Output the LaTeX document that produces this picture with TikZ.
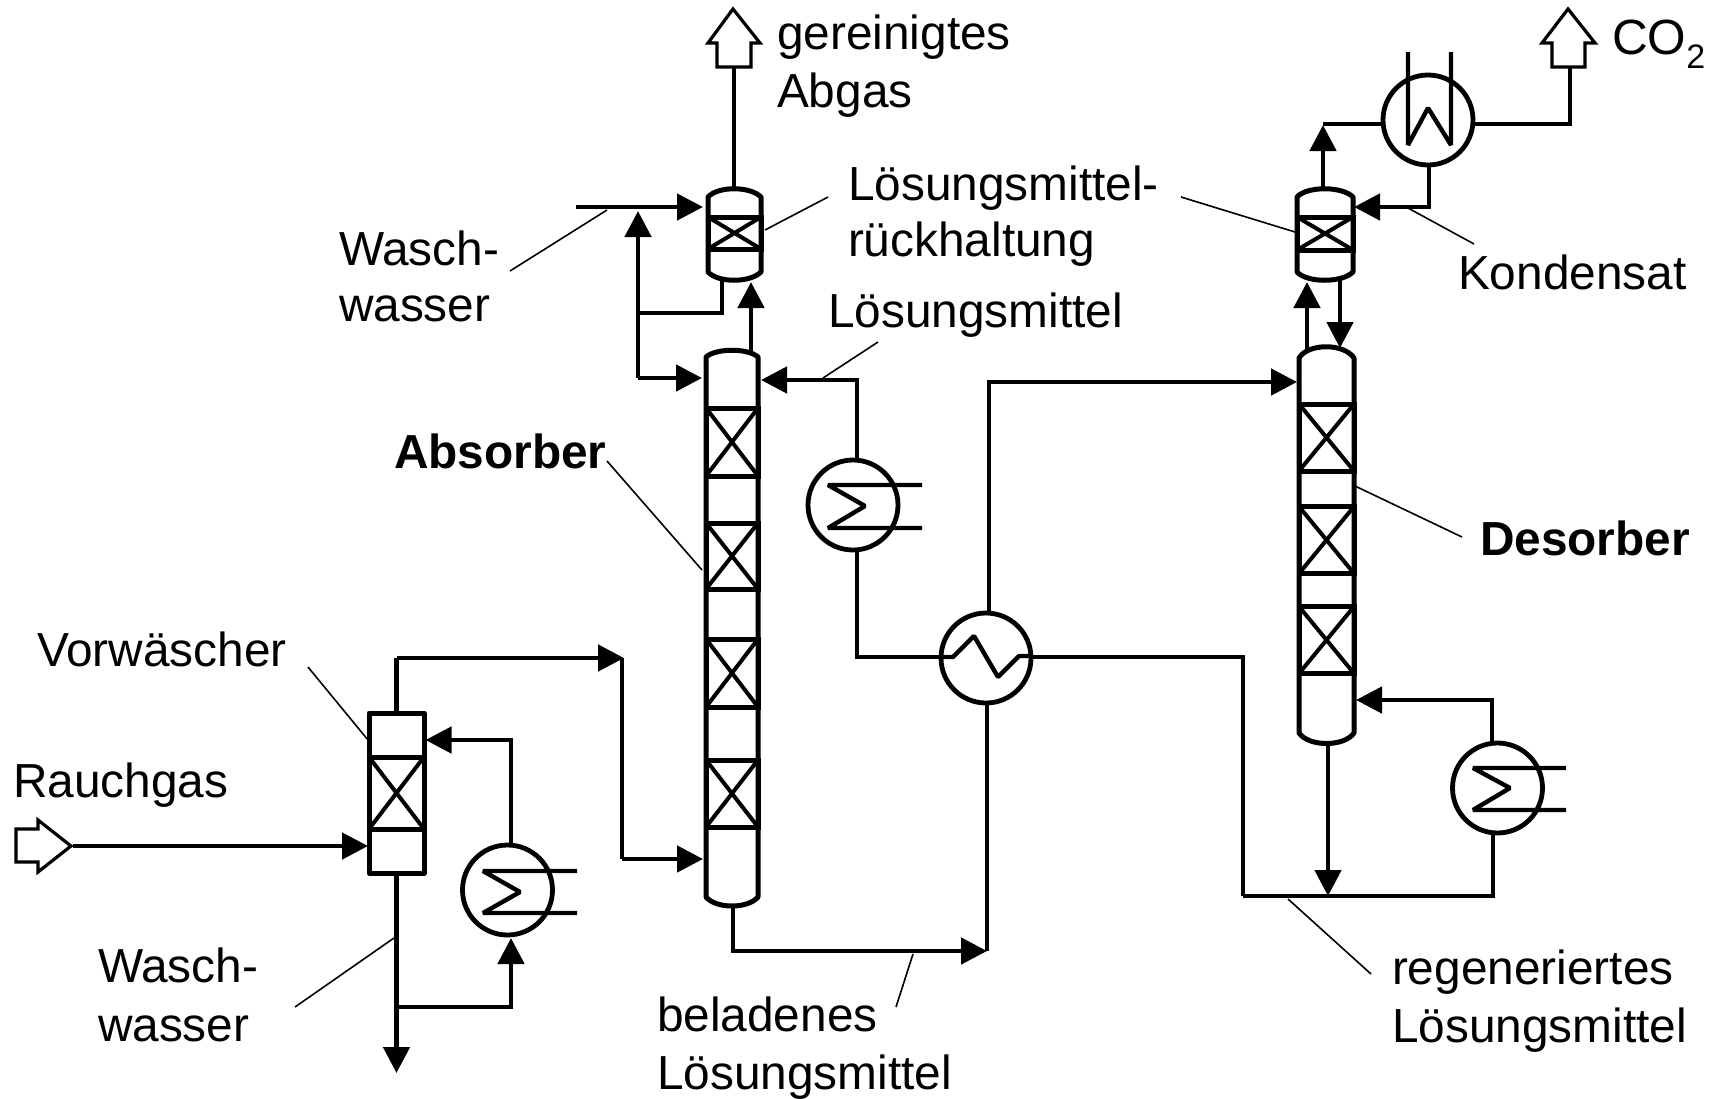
\documentclass[tikz,border=0pt]{standalone}
\usepackage{fontspec}
\setmainfont{Liberation Sans}
\usetikzlibrary{arrows.meta}
\tikzset{
  pipe/.style={line width=4.8pt,line join=miter,line cap=butt},
  flow/.style={pipe,-{Triangle[length=26pt,width=26pt]}},
  vessel/.style={line width=5pt,line join=round},
  pack/.style={draw,rectangle,line width=5pt,inner sep=0pt,outer sep=0pt,minimum width=#1},
  packx/.style={line width=4pt},
  hx/.style={draw,circle,line width=4.8pt,inner sep=0pt,outer sep=0pt,minimum size=90pt},
  tube/.style={line width=4.4pt,line join=bevel},
  open/.style={line width=3.2pt,fill=white,line join=miter},
  leader/.style={line width=1.6pt},
  lab/.style={anchor=base west,inner sep=0pt,outer sep=0pt,font=\fontsize{47.8}{58}\selectfont},
  blab/.style={lab,font=\fontsize{47.8}{58}\selectfont\bfseries}
}
\begin{document}
\begin{tikzpicture}[x=1pt,y=-1pt]
\useasboundingbox (0,0) rectangle (1720,1098);
\fill[white] (0,0) rectangle (1720,1098);

% ---- heat exchangers
\node[hx] (coolA) at (853,505) {};
\node[hx] (coolV) at (507.5,890) {};
\node[hx] (coolD) at (1497.5,788) {};
\node[hx] (cross) at (986,658) {};
\node[hx] (cond) at (1428,120) {};

% ---- named points
\coordinate (wtop) at (734,188);
\coordinate (wbotL) at (722,280);
\coordinate (wwIn) at (576,207);
\coordinate (wwTip) at (703,207);
\coordinate (split) at (638,313);
\coordinate (splitUp) at (638,211);
\coordinate (splitLow) at (638,378);
\coordinate (absTipL) at (702,378);
\coordinate (absOut) at (751,352);
\coordinate (wBot) at (751,282);
\coordinate (absTipR) at (761,380);
\coordinate (coolAn) at (857,460);
\coordinate (coolAs) at (857,550);
\coordinate (crossW) at (941,657);
\coordinate (crossE) at (1031,657);
\coordinate (crossN) at (989,613);
\coordinate (crossS) at (987,703);
\coordinate (desTipL) at (1297,382);
\coordinate (absBot) at (733,906);
\coordinate (cornerLoad) at (987,951);
\coordinate (regenC2) at (1243,896);
\coordinate (regenC3) at (1493,896);
\coordinate (coolDs) at (1493,833);
\coordinate (coolDn) at (1492,743);
\coordinate (desTipR) at (1356,700);
\coordinate (desBot) at (1328,743);
\coordinate (desJoin) at (1328,896);
\coordinate (vorIn) at (73,846);
\coordinate (vorTip) at (368,846);
\coordinate (vorTop) at (396.5,713);
\coordinate (vorC1) at (396.5,658);
\coordinate (vorC2) at (624,658);
\coordinate (vorC2b) at (622,658);
\coordinate (vorC3) at (622,859);
\coordinate (absTipF) at (703,859);
\coordinate (vorBot) at (396.5,873);
\coordinate (vorEnd) at (396.5,1073);
\coordinate (vorBr) at (396.5,1007);
\coordinate (coolVs) at (511,938);
\coordinate (coolVn) at (511,845);
\coordinate (vorTipR) at (425.5,740);
\coordinate (rwOut) at (1323,188);
\coordinate (rwTip) at (1323,125);
\coordinate (condW) at (1383,124);
\coordinate (condE) at (1473,124);
\coordinate (co2B) at (1570,67);
\coordinate (condS) at (1429,165);
\coordinate (rwTipR) at (1354,207);
\coordinate (desUpA) at (1307,350);
\coordinate (desUpB) at (1307,282);
\coordinate (desDnA) at (1340,280);
\coordinate (desDnB) at (1340,348);
\coordinate (abgB) at (734,67);

% ---- columns
\draw[vessel] (706,897) -- (706,357) .. controls (716,348) and (748,348) .. (758,357) -- (758,897) .. controls (748,909) and (716,909) .. cycle;
\draw[vessel] (708,272) -- (708,197) .. controls (718,186) and (750,186) .. (761,197) -- (761,272) .. controls (750,283) and (718,283) .. cycle;
\draw[vessel] (1299,733) -- (1299,358) .. controls (1308,343) and (1344,343) .. (1354,358) -- (1354,733) .. controls (1344,747) and (1309,747) .. cycle;
\draw[vessel] (1297,272) -- (1297,197) .. controls (1307,186) and (1342,186) .. (1353,197) -- (1353,272) .. controls (1342,283) and (1307,283) .. cycle;
\draw[vessel] (369,713) rectangle (424,873);

% ---- packings
\node[pack=52pt,minimum height=68pt] (a1) at (732,442) {};
\node[pack=52pt,minimum height=66pt] (a2) at (732,556) {};
\node[pack=52pt,minimum height=68pt] (a3) at (732,673) {};
\node[pack=52pt,minimum height=67pt] (a4) at (732,793.5) {};
\node[pack=53pt,minimum height=32pt] (w1) at (734.5,233) {};
\node[pack=56pt,minimum height=33pt] (w2) at (1325,233.5) {};
\node[pack=55pt,minimum height=67pt] (d1) at (1326.5,437.5) {};
\node[pack=55pt,minimum height=67pt] (d2) at (1326.5,540) {};
\node[pack=55pt,minimum height=67pt] (d3) at (1326.5,640) {};
\node[pack=55pt,minimum height=72pt] (v1) at (396.5,793) {};
\foreach \p in {a1,a2,a3,a4,w1,w2,d1,d2,d3,v1}
  \draw[packx] (\p.north west) -- (\p.south east) (\p.north east) -- (\p.south west);

% ---- process lines
\draw[pipe] (abgB) -- (wtop);
\draw[flow] (wwIn) -- (wwTip);
\draw[flow] (splitLow) -- (splitUp);
\draw[pipe] (wbotL) |- (split);
\draw[flow] (splitLow) -- (absTipL);
\draw[flow] (absOut) -- (wBot);
\draw[flow] (coolAn) |- (absTipR);
\draw[pipe] (coolAs) |- (crossW);
\draw[flow] (crossN) |- (desTipL);
\draw[flow] (absBot) |- (cornerLoad);
\draw[pipe] (cornerLoad) -- (crossS);
\draw[pipe] (crossE) -| (regenC2);
\draw[pipe] (regenC2) -- (regenC3) -- (coolDs);
\draw[flow] (coolDn) |- (desTipR);
\draw[flow] (desBot) -- (desJoin);
\draw[flow] (vorIn) -- (vorTip);
\draw[pipe] (vorTop) -- (vorC1);
\draw[flow] (vorC1) -- (vorC2);
\draw[flow] (vorC3) -- (absTipF);
\draw[pipe] (vorC2b) -- (vorC3);
\draw[flow] (vorBot) -- (vorEnd);
\draw[flow] (vorBr) -| (coolVs);
\draw[flow] (coolVn) |- (vorTipR);
\draw[flow] (rwOut) -- (rwTip);
\draw[pipe] (condW) -- (rwTip |- condW);
\draw[pipe] (condE) -| (co2B);
\draw[flow] (condS) |- (rwTipR);
\draw[flow] (desUpA) -- (desUpB);
\draw[flow] (desDnA) -- (desDnB);

% ---- exchanger internals
\draw[tube] (922,485) -- (828,485) -- (865,506) -- (828,528) -- (922,528);
\draw[tube] (577,871) -- (483,871) -- (520,892) -- (483,913) -- (577,913);
\draw[tube] (1566,768) -- (1473,768) -- (1510,788) -- (1473,810) -- (1566,810);
\draw[tube] (1408,52) -- (1408,145) -- (1428,108) -- (1451,145) -- (1451,52);
\draw[tube] (941,657) -- (953,657) -- (974,636) -- (998,677) -- (1019,656) -- (1031,656);

% ---- open stream arrows
\draw[open] (717,67) -- (717,43) -- (708,43) -- (733,9) -- (760,43) -- (751,43) -- (751,67) -- cycle;
\draw[open] (1552,67) -- (1552,43) -- (1542,43) -- (1568,9) -- (1595,43) -- (1585,43) -- (1585,67) -- cycle;
\draw[open] (16,829) -- (38,829) -- (38,820) -- (71,846) -- (38,872) -- (38,862) -- (16,862) -- cycle;

% ---- labels
\node[lab] (tGer) at (777,49) {gereinigtes};
\node[lab] (tAbg) at (777,107) {Abgas};
\node[lab] (tRue1) at (848,200) {Lösungsmittel-};
\node[lab] (tRue2) at (848,256) {rückhaltung};
\node[lab] (tLm) at (828,327) {Lösungsmittel};
\node[lab] (tW1) at (339,265) {Wasch-};
\node[lab] (tW2) at (339,321) {wasser};
\node[blab] (tAbs) at (394,468) {Absorber};
\node[blab] (tDes) at (1480,555) {Desorber};
\node[lab] (tVor) at (37,666) {Vorwäscher};
\node[lab] (tRau) at (13,797) {Rauchgas};
\node[lab] (tW3) at (98,982) {Wasch-};
\node[lab] (tW4) at (98,1041) {wasser};
\node[lab] (tBel1) at (657,1031) {beladenes};
\node[lab] (tBel2) at (657,1089) {Lösungsmittel};
\node[lab] (tReg1) at (1392,984) {regeneriertes};
\node[lab] (tReg2) at (1392,1042) {Lösungsmittel};
\node[lab] (tKon) at (1458,289) {Kondensat};
\node[lab,font=\fontsize{49.5}{58}\selectfont] (tCO) at (1612,54) {CO\raisebox{-14pt}{\fontsize{34}{34}\selectfont 2}};

% ---- leader lines
\coordinate (l1a) at (308,667); \coordinate (l1b) at (368,740);
\coordinate (l2a) at (295,1007); \coordinate (l2b) at (394,938);
\coordinate (l3a) at (607,461); \coordinate (l3b) at (702,570);
\coordinate (l4a) at (510,271); \coordinate (l4b) at (607,210);
\coordinate (l5a) at (828,197); \coordinate (l5b) at (765,230);
\coordinate (l6a) at (878,342); \coordinate (l6b) at (823,378);
\coordinate (l7a) at (896,1007); \coordinate (l7b) at (913,954);
\coordinate (l8a) at (1462,537); \coordinate (l8b) at (1355,486);
\coordinate (l9a) at (1371,974); \coordinate (l9b) at (1288,899);
\coordinate (l10a) at (1181,197); \coordinate (l10b) at (1295,232);
\coordinate (l11a) at (1408,208); \coordinate (l11b) at (1474,244);
\foreach \n in {1,...,11} \draw[leader] (l\n a) -- (l\n b);
\end{tikzpicture}
\end{document}
